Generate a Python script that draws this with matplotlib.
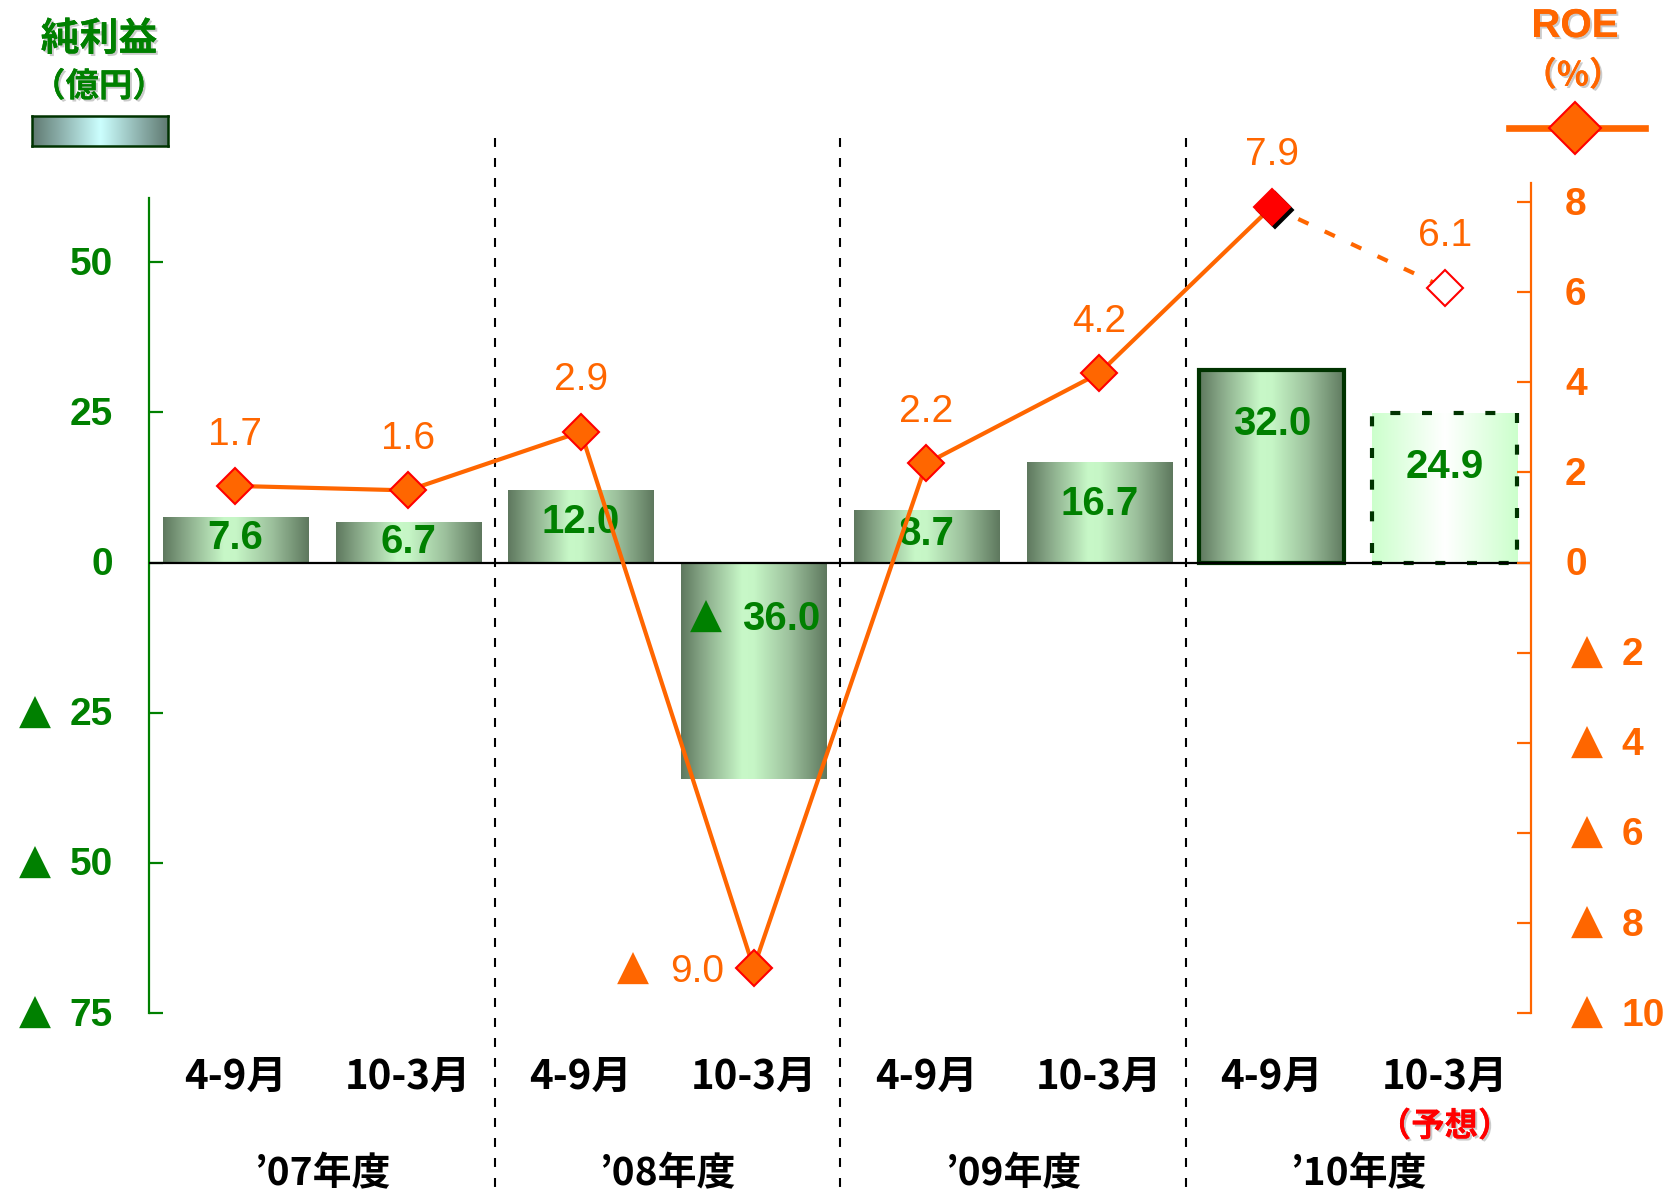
import matplotlib
matplotlib.use('Agg')
import matplotlib.pyplot as plt
import matplotlib.transforms as mtransforms
import matplotlib.patheffects as pe
from matplotlib.colors import LinearSegmentedColormap
from matplotlib.lines import Line2D
import numpy as np

# ---------------- data ----------------
periods = ['4-9月', '10-3月', '4-9月', '10-3月', '4-9月', '10-3月', '4-9月', '10-3月']
fiscal_years = ['’07年度', '’08年度', '’09年度', '’10年度']
net_income = [7.6, 6.7, 12.0, -36.0, 8.7, 16.7, 32.0, 24.9]      # 億円
roe = [1.7, 1.6, 2.9, -9.0, 2.2, 4.2, 7.9, 6.1]                  # %
left_ticks = [50, 25, 0, -25, -50, -75]
right_ticks = [8, 6, 4, 2, 0, -2, -4, -6, -8, -10]
forecast_note = '（予想）'
left_title = ['純利益', '（億円）']
right_title = ['ROE', '（%）']
NEG_MARK = '▲'

# ---------------- style ----------------
GREEN = '#008000'
ORANGE = '#FF6600'
RED = '#FF0000'
DKGREEN = '#003300'
LATIN = ['Liberation Sans', 'DejaVu Sans']
TRI = ['DejaVu Sans']
NARROW = ['Liberation Sans Narrow', 'Noto Sans CJK JP', 'DejaVu Sans']
CJK = ['Noto Sans CJK JP', 'DejaVu Sans']
TRI_SIZE = 30

W, H = 1669, 1196
def fx(px): return px / W
def fy(py): return 1 - py / H

shadow = [pe.withSimplePatchShadow(offset=(1.5, -1.5), shadow_rgbFace='#999999', alpha=0.5), pe.Normal()]

def signed_label(axis, xy, xycoords, value, fmt, num_dx, tri_dx, num_ha, color,
                 size, weight, dy=0, zorder=3):
    """Number text plus, for negatives, a separate ▲ mark (Japanese minus convention)."""
    axis.annotate(fmt.format(abs(value)), xy, xycoords=xycoords, xytext=(num_dx, dy),
                  textcoords='offset points', ha=num_ha, va='center_baseline',
                  fontsize=size, fontweight=weight, color=color, family=LATIN, zorder=zorder)
    if value < 0:
        axis.annotate(NEG_MARK, xy, xycoords=xycoords, xytext=(tri_dx, dy + 3),
                      textcoords='offset points', ha='center', va='center_baseline',
                      fontsize=TRI_SIZE, color=color, family=TRI, zorder=zorder)

fig = plt.figure(figsize=(W / 100, H / 100), dpi=100)
ax = fig.add_axes([fx(149), fy(1013), (1531 - 149) / W, (1013 - 183) / H])
ax2 = ax.twinx()

x = np.arange(len(net_income))
bar_w = 0.84
grad = np.linspace(0, 1, 256).reshape(1, -1)
bar_cmap = LinearSegmentedColormap.from_list(
    'bar', [(0, '#5E785E'), (0.15, '#88A888'), (0.42, '#C8F8C8'), (0.5, '#C6F6C6'),
            (0.75, '#9CC09C'), (1, '#5E785E')])
fc_cmap = LinearSegmentedColormap.from_list(
    'fc', [(0, '#CCFFCC'), (0.5, '#FFFFFF'), (1, '#CCFFCC')])

bars = ax.bar(x, net_income, width=bar_w, color='none', edgecolor='none', zorder=2)
px_per_unit = 450.5 / 75
for i, (rect, v) in enumerate(zip(bars, net_income)):
    x0 = rect.get_x(); x1 = x0 + rect.get_width()
    y0 = min(0, v); y1 = max(0, v)
    cmap = fc_cmap if i == 7 else bar_cmap
    ax.imshow(grad, cmap=cmap, extent=[x0, x1, y0, y1], aspect='auto',
              interpolation='bicubic', zorder=1.5)
    h_px = abs(v) * px_per_unit
    drop = min(max(0.38 * h_px, 16), 50) * 0.72
    if v >= 0:
        signed_label(ax, (i, y1), 'data', v, '{:.1f}', 0, 0, 'center', GREEN, 29, 'bold', dy=-drop)
    else:
        signed_label(ax, (i, y1), 'data', v, '{:.1f}', 19.5, -34.5, 'center', GREEN, 29, 'bold',
                     dy=-drop - 2)

bars[6].set_edgecolor(DKGREEN); bars[6].set_linewidth(3); bars[6].set_zorder(2.5)
bars[7].set_edgecolor(DKGREEN); bars[7].set_linewidth(3)
bars[7].set_linestyle((0, (2.4, 5.2))); bars[7].set_zorder(2.5)

ax.axhline(0, color='black', lw=1.6, zorder=2.6)

# ROE line
ax2.plot(x[:7], roe[:7], color=ORANGE, lw=3, zorder=3, solid_joinstyle='round')
ax2.plot(x[6:8], roe[6:8], color=ORANGE, lw=3, linestyle=(0, (2.7, 4.3)), zorder=3)
ax2.plot(x[:6], roe[:6], ls='none', marker='D', ms=18, mfc=ORANGE, mec=RED, mew=1.5, zorder=4)
shadow_tr = mtransforms.offset_copy(ax2.transData, fig=fig, x=3, y=-3, units='dots')
ax2.plot([x[6]], [roe[6]], marker='D', ms=18, mfc='black', mec='black', mew=1.5,
         transform=shadow_tr, zorder=4)
ax2.plot([x[6]], [roe[6]], marker='D', ms=18, mfc=RED, mec=RED, mew=1.5, zorder=5)
ax2.plot([x[7]], [roe[7]], marker='D', ms=18, mfc='white', mec=RED, mew=1.5, zorder=5)

for i, v in enumerate(roe):
    if v >= 0:
        ax2.annotate(f'{v:.1f}', (i, v), xytext=(0, 37), textcoords='offset points',
                     ha='center', va='center', fontsize=28, color=ORANGE, family=LATIN)
    else:
        signed_label(ax2, (i, v), 'data', v, '{:.1f}', -21.6, -87, 'right', ORANGE, 28, 'normal')

# axes limits
ax.set_xlim(-0.5, 7.5)
ax.set_ylim(-75, 63.18)
ax2.set_ylim(-10, 8.424)

# spines
for s in ['right', 'top', 'bottom']:
    ax.spines[s].set_visible(False)
for s in ['left', 'top', 'bottom']:
    ax2.spines[s].set_visible(False)
ax.spines['left'].set_color(GREEN); ax.spines['left'].set_linewidth(1.6)
ax.spines['left'].set_bounds(-75, 60.7)
ax2.spines['right'].set_color(ORANGE); ax2.spines['right'].set_linewidth(1.6)

# y ticks (labels drawn as number + ▲ mark)
ax.set_yticks(left_ticks, [''] * len(left_ticks))
ax.tick_params(axis='y', direction='in', length=10, width=1.6, colors=GREEN)
for v in left_ticks:
    signed_label(ax, (0, v), ('axes fraction', 'data'), v, '{:d}', -26, -82.5, 'right',
                 GREEN, 28, 'bold', dy=1)
ax2.set_yticks(right_ticks, [''] * len(right_ticks))
ax2.tick_params(axis='y', direction='in', length=10, width=1.6, colors=ORANGE)
for v in right_ticks:
    signed_label(ax2, (1, v), ('axes fraction', 'data'), v, '{:d}',
                 24.5 if v >= 0 else 65, 40.5, 'left', ORANGE, 28, 'bold', dy=1)

# x ticks
ax.set_xticks(x, periods)
ax.tick_params(axis='x', length=0, pad=46, labelsize=29, labelcolor='black')
for lbl in ax.get_xticklabels():
    lbl.set_family(NARROW); lbl.set_fontweight('bold'); lbl.set_va('center')

trans = mtransforms.blended_transform_factory(ax.transData, ax.transAxes)
for k, fyname in enumerate(fiscal_years):
    ax.text(2 * k + 0.5, -0.194, fyname, transform=trans, ha='center', va='center',
            fontsize=28, fontweight='bold', family=NARROW, color='black')
ax.text(7, -0.137, forecast_note, transform=trans, ha='center', va='center',
        fontsize=24, fontweight='bold', family=CJK, color=RED, path_effects=shadow)

# dividers
for xd in [1.5, 3.5, 5.5]:
    ax.plot([xd, xd], [1.054, -0.23], transform=trans, clip_on=False, color='black',
            lw=1.5, linestyle=(0, (4.3, 5.3)), zorder=6)

ax.set_xlim(-0.5, 7.5)
ax.set_ylim(-75, 63.18)

# left legend
fig.text(fx(99), fy(39), left_title[0], ha='center', va='center', fontsize=28,
         fontweight='bold', color=GREEN, family=CJK, path_effects=shadow)
fig.text(fx(99), fy(87), left_title[1], ha='center', va='center', fontsize=24,
         fontweight='bold', color=GREEN, family=CJK, path_effects=shadow)
lax = fig.add_axes([fx(32), fy(146), (168 - 32) / W, 30 / H])
sw_cmap = LinearSegmentedColormap.from_list('sw', [(0, '#5F7870'), (0.5, '#CCFFFF'), (1, '#5F7870')])
lax.imshow(grad, cmap=sw_cmap, aspect='auto', extent=[0, 1, 0, 1], interpolation='bicubic')
lax.set_xticks([]); lax.set_yticks([])
for s in lax.spines.values():
    s.set_color(DKGREEN); s.set_linewidth(1.8)

# right legend
fig.text(fx(1575), fy(26), right_title[0], ha='center', va='center', fontsize=29,
         fontweight='bold', color=ORANGE, family=LATIN, path_effects=shadow)
fig.text(fx(1573), fy(76), right_title[1], ha='center', va='center', fontsize=24,
         fontweight='bold', color=ORANGE, family=CJK, path_effects=shadow)
fig.add_artist(Line2D([fx(1509), fx(1645)], [fy(128), fy(128)], color=ORANGE, lw=4.8))
fig.add_artist(Line2D([fx(1575)], [fy(128)], marker='D', ms=26, mfc=ORANGE, mec=RED, mew=1.5))

fig.savefig('out.png', dpi=100)
